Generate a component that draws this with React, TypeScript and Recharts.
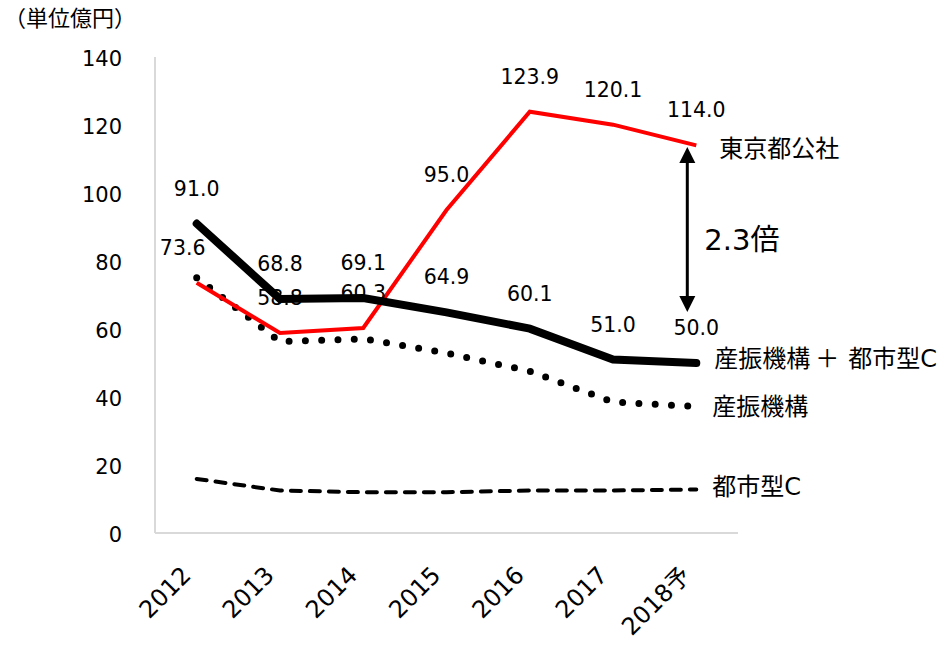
import React from "react";
import {
  LineChart,
  Line,
  XAxis,
  YAxis,
  LabelList,
  ReferenceLine,
} from "recharts";

const years = ["2012", "2013", "2014", "2015", "2016", "2017", "2018予"];
const tokyoKosha = [73.6, 58.8, 60.3, 95.0, 123.9, 120.1, 114.0];
const sanshinPlusToshi = [91.0, 68.8, 69.1, 64.9, 60.1, 51.0, 50.0];
const sanshin = [75.1, 56.3, 57.1, 52.9, 47.6, 38.5, 37.2];
const toshigata = [15.9, 12.5, 12.0, 12.0, 12.5, 12.5, 12.8];
const yTicks = [0, 20, 40, 60, 80, 100, 120, 140];
const seriesNames = ["東京都公社", "産振機構＋都市型C", "産振機構", "都市型C"];
const ratioLabel = "2.3倍";
const unitLabel = "（単位億円）";
const arrowRange = [113.5, 65.0];

const data = years.map((year, i) => ({
  year,
  tokyo: tokyoKosha[i],
  total: sanshinPlusToshi[i],
  sanshin: sanshin[i],
  toshi: toshigata[i],
}));

const FONT = "'DejaVu Sans', 'Noto Sans CJK JP', sans-serif";
const last = years.length - 1;

const valueLabel = (shiftFirst: number) => (props: any) => {
  const { x, y, value, index } = props;
  return (
    <text
      x={x + (index === 0 ? shiftFirst : 0)}
      y={y - 35}
      textAnchor="middle"
      dominantBaseline="central"
      fontSize={20.5}
      fontFamily={FONT}
      fill="#000"
    >
      {Number(value).toFixed(1)}
    </text>
  );
};

const nameLabel = (name: string, dx: number, dy: number) => (props: any) => {
  const { x, y, index } = props;
  if (index !== last) return null;
  const parts = name.split("＋");
  return (
    <text
      x={x + dx}
      y={y + dy}
      dominantBaseline="central"
      fontSize={24}
      fontFamily={FONT}
      fill="#000"
    >
      {parts.length === 1 ? (
        name
      ) : (
        <>
          <tspan>{parts[0]}</tspan>
          <tspan dx={5}>＋</tspan>
          <tspan dx={9}>{parts[1]}</tspan>
        </>
      )}
    </text>
  );
};

const XTick = (props: any) => {
  const { x, y, payload } = props;
  const ax = x - 10;
  const ay = y + 30;
  return (
    <text
      x={ax}
      y={ay}
      transform={`rotate(-45, ${ax}, ${ay})`}
      textAnchor="end"
      dominantBaseline="central"
      fontSize={24}
      fontFamily={FONT}
      fill="#000"
    >
      {payload.value}
    </text>
  );
};

const ArrowShape = (props: any) => {
  const { x1, y1, y2 } = props;
  const x = x1 - 9;
  const top = Math.min(y1, y2);
  const bottom = Math.max(y1, y2);
  return (
    <g>
      <line x1={x} y1={top + 14} x2={x} y2={bottom - 14} stroke="#000" strokeWidth={3} />
      <polygon points={`${x},${top} ${x - 8},${top + 16} ${x + 8},${top + 16}`} fill="#000" />
      <polygon points={`${x},${bottom} ${x - 8},${bottom - 16} ${x + 8},${bottom - 16}`} fill="#000" />
      <text
        x={x + 17}
        y={(top + bottom) / 2 + 10}
        dominantBaseline="central"
        fontSize={29}
        fontFamily={FONT}
        fill="#000"
      >
        {ratioLabel}
      </text>
    </g>
  );
};

export default function App() {
  return (
    <div style={{ position: "absolute", left: 0, top: 0 }}>
      <LineChart
        width={949}
        height={651}
        data={data}
        margin={{ top: 57, right: 211, left: 0, bottom: 38 }}
      >
        <XAxis
          dataKey="year"
          height={80}
          padding={{ left: 41.7, right: 41.7 }}
          tickLine={false}
          axisLine={{ stroke: "#d9d9d9", strokeWidth: 2 }}
          tick={<XTick />}
          interval={0}
        />
        <YAxis
          width={155}
          domain={[0, 140]}
          ticks={yTicks}
          tickLine={false}
          tickSize={0}
          tickMargin={33}
          axisLine={{ stroke: "#d9d9d9", strokeWidth: 2 }}
          tick={{ fontSize: 21, fontFamily: FONT, fill: "#000", dy: 2 }}
          label={{
            content: () => (
              <text x={4} y={18} dominantBaseline="central" fontSize={22} fontFamily={FONT} fill="#000">
                {unitLabel}
              </text>
            ),
          }}
        />
        <ReferenceLine
          segment={[
            { x: years[last], y: arrowRange[0] },
            { x: years[last], y: arrowRange[1] },
          ]}
          shape={<ArrowShape />}
        />
        <Line
          dataKey="toshi"
          stroke="#000"
          strokeWidth={4}
          strokeDasharray="10 9"
          strokeLinecap="round"
          dot={false}
          isAnimationActive={false}
        >
          <LabelList content={nameLabel(seriesNames[3], 16, -2)} />
        </Line>
        <Line
          dataKey="sanshin"
          stroke="#000"
          strokeWidth={7}
          strokeDasharray="0 16.3"
          strokeLinecap="round"
          dot={false}
          isAnimationActive={false}
        >
          <LabelList content={nameLabel(seriesNames[2], 16, 0)} />
        </Line>
        <Line
          dataKey="tokyo"
          stroke="#ff0000"
          strokeWidth={4}
          dot={false}
          isAnimationActive={false}
        >
          <LabelList content={valueLabel(-14)} />
          <LabelList content={nameLabel(seriesNames[0], 23, 4)} />
        </Line>
        <Line
          dataKey="total"
          stroke="#000"
          strokeWidth={8}
          strokeLinecap="round"
          dot={false}
          isAnimationActive={false}
        >
          <LabelList content={valueLabel(0)} />
          <LabelList content={nameLabel(seriesNames[1], 18, -4)} />
        </Line>
      </LineChart>
    </div>
  );
}
